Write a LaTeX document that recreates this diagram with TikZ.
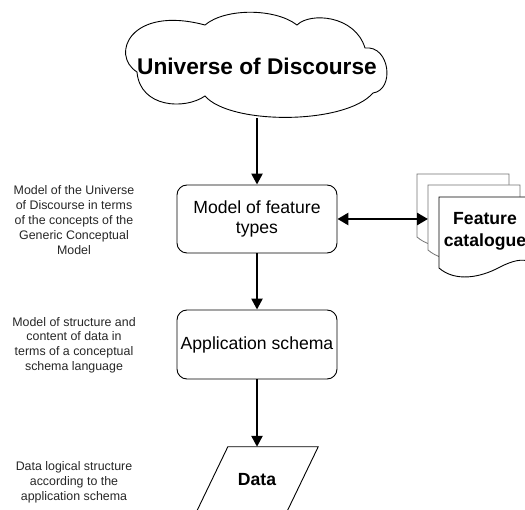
\documentclass[tikz,border=0pt]{standalone}
\usepackage{fontspec}
\setmainfont{Liberation Sans}
\usetikzlibrary{arrows.meta}
\begin{document}
\begin{tikzpicture}[x=1pt,y=-1pt,
  conn/.style={line width=2.4pt,-{Triangle[length=11pt,width=11pt]}},
  dconn/.style={line width=2.6pt,{Triangle[length=11pt,width=12pt]}-{Triangle[length=11pt,width=12pt]}},
  box/.style={draw,line width=0.9pt,rounded corners=10pt,minimum width=160pt,minimum height=68pt,align=center,font=\fontsize{17.6}{20}\selectfont,inner sep=0pt},
  note/.style={align=center,font=\fontsize{12.4}{14.8}\selectfont,text=black!85},
  boldtxt/.style={align=center,font=\fontsize{17.6}{22}\selectfont\bfseries},
  shapeline/.style={line width=0.9pt},
  backpage/.style={draw=black!55,fill=white,line width=0.8pt},
  frontpage/.style={draw=black,fill=white,line width=0.9pt},
]
\useasboundingbox (0,0) rectangle (525,510);
\clip (0,0) rectangle (525,510);

% Cloud
\draw[shapeline,fill=white] (137,72) .. controls (110,55) and (130,5) .. (205,25)
  .. controls (225,8) and (275,8) .. (297,25)
  .. controls (310,12) and (355,15) .. (365,48)
  .. controls (390,45) and (395,90) .. (373,93)
  .. controls (345,125) and (230,125) .. (205,96)
  .. controls (185,110) and (140,108) .. (137,72) -- cycle;
\node[font=\fontsize{22.7}{26}\selectfont\bfseries,minimum height=104pt,inner sep=0pt] (uod) at (257,66) {Universe of Discourse};

% Boxes
\node[box] (box1) at (257,219) {Model of feature\\types};
\node[box,minimum height=69pt] (box2) at (257,344.5) {Application schema};

% Data parallelogram
\node[boldtxt,minimum width=90pt,minimum height=66pt,inner sep=0pt] (data) at (257,480) {Data};
\draw[shapeline] ([xshift=16pt]data.north west) -- ([xshift=16pt]data.north east)
  -- ([xshift=-16pt]data.south east) -- ([xshift=-16pt]data.south west) -- cycle;

% Feature catalogue (multiple documents)
\foreach \px/\py/\h/\st in {417/174/63/backpage, 428/185/65/backpage, 439/197/71/frontpage} {
  \begin{scope}[shift={(\px,\py)}]
    \draw[\st] (0,0) -- (92,0) -- (92,\h-6)
      .. controls (83,\h-10) and (73,\h-7) .. (61,\h-1)
      .. controls (41,\h+10) and (16,\h+14) .. (0,\h) -- cycle;
  \end{scope}
}
\coordinate (fcin) at (428,219);
\node[boldtxt] (fc) at (485,231) {Feature\\catalogue};

% Notes
\node[note] (n1) at (74,220) {Model of the Universe\\of Discourse in terms\\of the concepts of the\\Generic Conceptual\\Model};
\node[note] (n2) at (74,345) {Model of structure and\\content of data in\\terms of a conceptual\\schema language};
\node[note] (n3) at (74,482) {Data logical structure\\according to the\\application schema};

% Connectors
\draw[conn] (uod.south) -- (box1.north);
\draw[conn] (box1.south) -- (box2.north);
\draw[conn] (box2.south) -- (data.north);
\draw[dconn] (box1.east) -- (box1.east -| fcin);
\end{tikzpicture}
\end{document}
